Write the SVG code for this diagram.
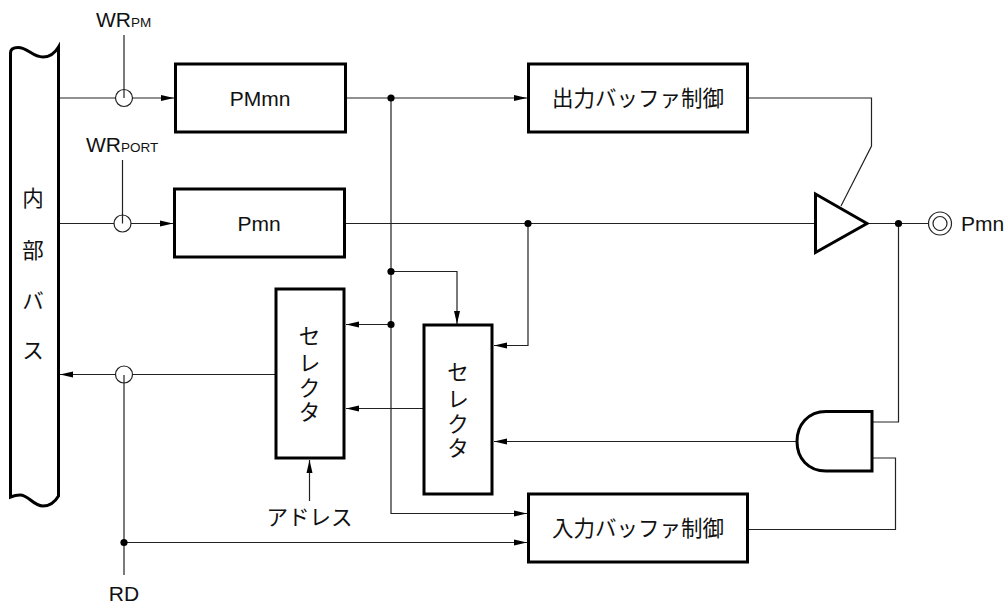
<svg xmlns="http://www.w3.org/2000/svg" width="1006" height="603" viewBox="0 0 1006 603">
<style>
text{font-family:"Liberation Sans","Noto Sans CJK JP",sans-serif;font-size:21px;fill:#111}
.c{text-anchor:middle}
.j{font-size:21.500px}
.s{font-size:13.500px}
.b{fill:#fff;stroke:#000;stroke-width:3}
.l{fill:none;stroke:#222;stroke-width:1.2}
.o{fill:#fff;stroke:#222;stroke-width:1.2}
</style>
<defs>
<marker id="a" markerUnits="userSpaceOnUse" markerWidth="14" markerHeight="8" refX="13" refY="4" orient="auto"><path d="M0 1 L13 4 L0 7Z" fill="#000"/></marker>
<circle id="d" r="3.600" fill="#000"/>
</defs>
<g id="connectors">
<path class="l" d="M59 98H174" marker-end="url(#a)"/>
<path class="l" d="M59 223.500H173" marker-end="url(#a)"/>
<path class="l" d="M345 98H527" marker-end="url(#a)"/>
<path class="l" d="M391 98V513.500H527" marker-end="url(#a)"/>
<path class="l" d="M345 223.500H815"/>
<path class="l" d="M528 223.500V345.500H494" marker-end="url(#a)"/>
<path class="l" d="M391 271.500H457V324" marker-end="url(#a)"/>
<path class="l" d="M391 324.500H346" marker-end="url(#a)"/>
<path class="l" d="M424 408.500H346" marker-end="url(#a)"/>
<path class="l" d="M276 374.500H60" marker-end="url(#a)"/>
<path class="l" d="M124 542.500H527" marker-end="url(#a)"/>
<path class="l" d="M309.500 501V460" marker-end="url(#a)"/>
<path class="l" d="M796 441.500H494" marker-end="url(#a)"/>
<path class="l" d="M748 98H871.500V146L841 206"/>
<path class="l" d="M867 223.500H928"/>
<path class="l" d="M898.500 223.500V422H873"/>
<path class="l" d="M873 458H895.500V529.500H749"/>
<circle class="o" cx="124" cy="98" r="8.500"/>
<circle class="o" cx="122.500" cy="223.500" r="8.500"/>
<circle class="o" cx="124" cy="374.500" r="8.500"/>
<path class="l" d="M124 35V98"/>
<path class="l" d="M122.500 160V223.500"/>
<path class="l" d="M124 375V575"/>
<use href="#d" x="391" y="98"/>
<use href="#d" x="528" y="223.500"/>
<use href="#d" x="391" y="271.500"/>
<use href="#d" x="391" y="324.500"/>
<use href="#d" x="124" y="542.500"/>
<use href="#d" x="898.500" y="223.500"/>
</g>
<g id="bus">
<path class="b" d="M10.500 497V53C10.500 49 13 47.500 18 47.500C28 47.500 32 57 43 57C50 57 55 53 58.500 47V496C55 502 50 506 43 506C33 506 29 495 20 495C16 495 13 496 10.500 497Z"/>
<text class="c j" x="33" y="206">内</text>
<text class="c j" x="33" y="258">部</text>
<text class="c j" x="33" y="309">バ</text>
<text class="c j" x="33" y="358">ス</text>
</g>
<g id="wrpm"><text x="96" y="27">WR<tspan class="s">PM</tspan></text></g>
<g id="wrport"><text x="86" y="152">WR<tspan class="s">PORT</tspan></text></g>
<g id="pmmn"><rect class="b" x="175.500" y="64" width="170" height="68"/><text class="c" x="260" y="106">PMmn</text></g>
<g id="pmn-reg"><rect class="b" x="174.500" y="189" width="170" height="68"/><text class="c" x="259" y="231">Pmn</text></g>
<g id="out-ctrl"><rect class="b" x="528.500" y="64" width="219" height="68"/><text class="c j" x="638" y="105.500">出力バッファ制御</text></g>
<g id="in-ctrl"><rect class="b" x="528.500" y="494" width="219" height="68"/><text class="c j" x="638" y="535.500">入力バッファ制御</text></g>
<g id="selector1"><rect class="b" x="276" y="289" width="68" height="169"/>
<text class="c j" x="309.500" y="344">セ</text><text class="c j" x="309.500" y="371">レ</text><text class="c j" x="309.500" y="396">ク</text><text class="c j" x="309.500" y="420">タ</text></g>
<g id="selector2"><rect class="b" x="424" y="325" width="68" height="169"/>
<text class="c j" x="458" y="380">セ</text><text class="c j" x="458" y="407">レ</text><text class="c j" x="458" y="432">ク</text><text class="c j" x="458" y="456">タ</text></g>
<g id="address"><text class="c j" x="309.500" y="525">アドレス</text></g>
<g id="rd"><text class="c" x="124" y="601">RD</text></g>
<g id="buffer"><path class="b" d="M815.500 194V252.500L867 223.500Z"/></g>
<g id="and-gate"><path class="b" d="M872 411.500V471H826C808 471 797 458 797 441.500C797 425 808 411.500 826 411.500Z"/></g>
<g id="pin"><circle class="o" cx="940" cy="223.500" r="11.500"/><circle class="o" cx="940" cy="223.500" r="7"/><text x="961" y="231">Pmn</text></g>
</svg>
